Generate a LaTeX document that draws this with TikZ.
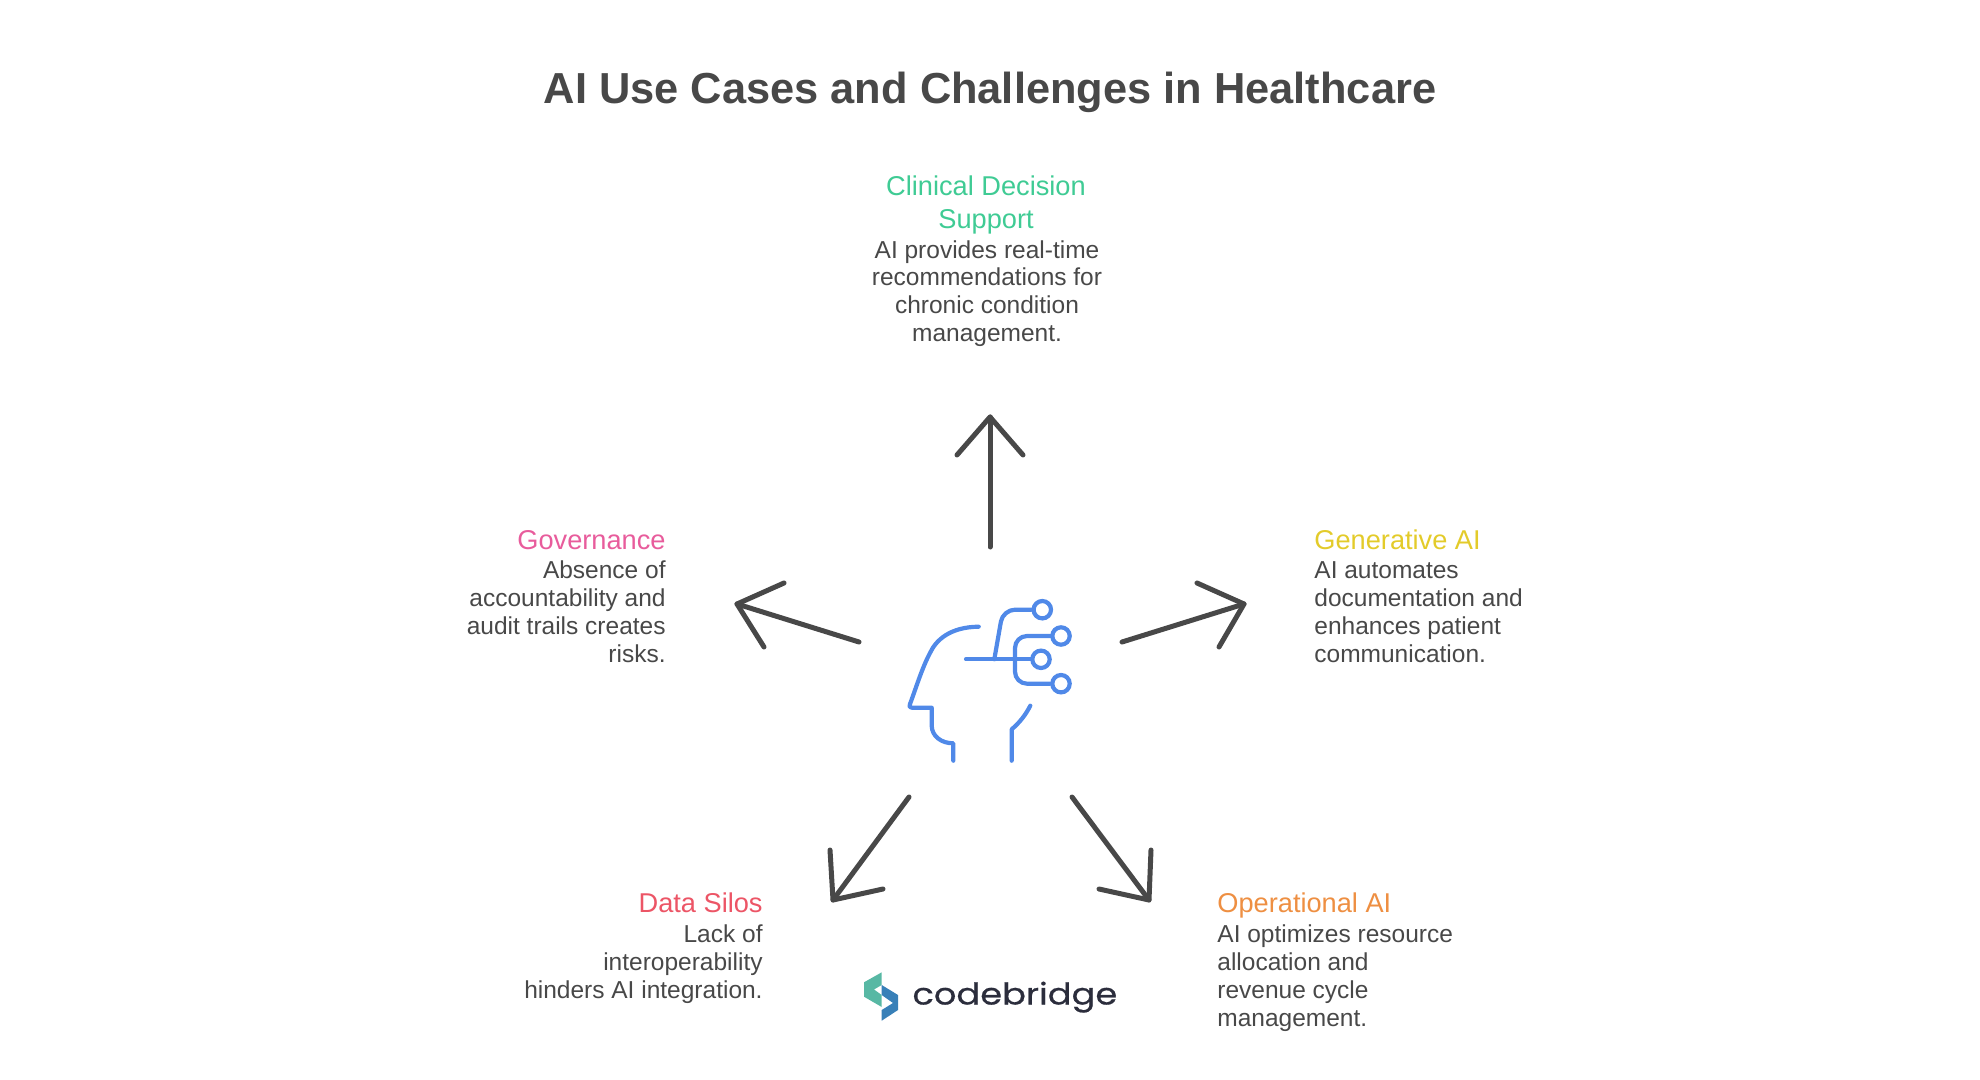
\documentclass[tikz,border=0pt]{standalone}
\usepackage{fontspec}
\setmainfont{Liberation Sans}
\newfontfamily\logofont[FakeBold=0.6]{Poppins}
\definecolor{inkgray}{HTML}{484848}
\definecolor{iconblue}{HTML}{5089E8}
\definecolor{cgreen}{HTML}{3FCB94}
\definecolor{cyellow}{HTML}{E3CB2A}
\definecolor{corange}{HTML}{EE8F42}
\definecolor{cred}{HTML}{EC5566}
\definecolor{cpink}{HTML}{E85C9C}
\definecolor{logogreen}{HTML}{58B8A4}
\definecolor{logoblue}{HTML}{3880B8}
\definecolor{logotext}{HTML}{2B2D3C}
\tikzset{
  head/.style={inner sep=0pt, font=\fontsize{13.6}{16.4}\selectfont},
  body/.style={inner sep=0pt, text=inkgray, font=\fontsize{12.25}{13.9}\selectfont},
  arrowline/.style={draw=inkgray, line width=2.5pt, line cap=round, line join=round},
  iconline/.style={draw=iconblue, line width=2.1pt, line cap=round, line join=round},
  dot/.style={circle, draw=iconblue, line width=2.1pt, minimum size=8.7pt, inner sep=0pt},
}
\begin{document}
\begin{tikzpicture}[x=0.5pt, y=-0.5pt]
  \useasboundingbox (0,0) rectangle (1980,1080);
  \node[inner sep=0pt, text=inkgray, font=\fontsize{21.7}{26}\selectfont\bfseries] (title) at (990,92) {AI Use Cases and Challenges in Healthcare};

  % labels
  \node[head, text=cgreen, align=center, anchor=base] (h1) at (986,228.5) {Clinical Decision\\Support};
  \node[body, align=center, anchor=base] (b1) at (987,341.5) {AI provides real-time\\recommendations for\\chronic condition\\management.};
  \node[head, text=cyellow, anchor=base west] (h2) at (1314,549) {Generative AI};
  \node[body, align=left, anchor=base west] (b2) at (1314,662) {AI automates\\documentation and\\enhances patient\\communication.};
  \node[head, text=corange, anchor=base west] (h3) at (1217,912) {Operational AI};
  \node[body, align=left, anchor=base west] (b3) at (1217,1026) {AI optimizes resource\\allocation and\\revenue cycle\\management.};
  \node[head, text=cred, anchor=base east] (h4) at (763,912) {Data Silos};
  \node[body, align=right, anchor=base east] (b4) at (763,998) {Lack of\\interoperability\\hinders AI integration.};
  \node[head, text=cpink, anchor=base east] (h5) at (666,549) {Governance};
  \node[body, align=right, anchor=base east] (b5) at (666,662) {Absence of\\accountability and\\audit trails creates\\risks.};

  % arrows
  \coordinate (a1) at (990,547);
  \coordinate (t1) at (990,417);
  \coordinate (l1) at (957,455);
  \coordinate (r1) at (1023,455);
  \coordinate (a2) at (1122,642);
  \coordinate (t2) at (1244,604);
  \coordinate (l2) at (1197,583);
  \coordinate (r2) at (1219,647);
  \coordinate (a3) at (1072,797);
  \coordinate (t3) at (1149,900);
  \coordinate (l3) at (1151,850);
  \coordinate (r3) at (1099,889);
  \coordinate (a4) at (909,797);
  \coordinate (t4) at (833,900);
  \coordinate (l4) at (830,850);
  \coordinate (r4) at (883,889);
  \coordinate (a5) at (859,642);
  \coordinate (t5) at (737,604);
  \coordinate (l5) at (784,583);
  \coordinate (r5) at (764,647);
  \foreach \i in {1,...,5} {
    \draw[arrowline] (a\i) -- (t\i);
    \draw[arrowline] (l\i) -- (t\i) -- (r\i);
  }

  % head icon
  \draw[iconline] (978.7,626.7) .. controls (950,627) and (936,640) .. (930,653)
    .. controls (922,668) and (916,688) .. (910,704)
    .. controls (909,707) and (910,707.7) .. (912,707.7) -- (931.7,707.7) -- (931.7,726)
    .. controls (932,736) and (941,743.3) .. (953.3,743.3) -- (953.3,760.7);
  \draw[iconline] (1030.3,705.7) .. controls (1025,716) and (1019,723) .. (1011.7,729.3) -- (1011.7,760.7);
  \node[dot] (d1) at (1042.3,609.7) {};
  \node[dot] (d2) at (1061,636) {};
  \node[dot] (d3) at (1041,659.3) {};
  \node[dot] (d4) at (1061,683.7) {};
  \coordinate (s0) at (966,659.3);
  \coordinate (s1) at (994.3,659.3);
  \coordinate (s2) at (1015,659.3);
  \draw[iconline] (s0) -- (d3);
  \draw[iconline, rounded corners=6pt] (s1) -- (1003,609.7) -- (d1);
  \draw[iconline, rounded corners=6pt] (s2) -- (1015,636) -- (d2);
  \draw[iconline, rounded corners=6pt] (s2) -- (1015,683.7) -- (d4);

  % logo
  \fill[logogreen] (881.7,972.3) -- (864,982.3) -- (864,996.7) -- (881.7,1007) -- (881.7,995) -- (874,989.5) -- (881.7,985) -- cycle;
  \fill[logoblue] (881.7,985) -- (898,995) -- (898,1010) -- (881.7,1020.7) -- (881.7,1010) -- (893,1003) -- (881.7,995) -- cycle;
  \node[inner sep=0pt, text=logotext, anchor=base west, xscale=1.175] (logo) at (912,1004.5) {\logofont\fontsize{15}{18}\selectfont codebridge};
\end{tikzpicture}
\end{document}
